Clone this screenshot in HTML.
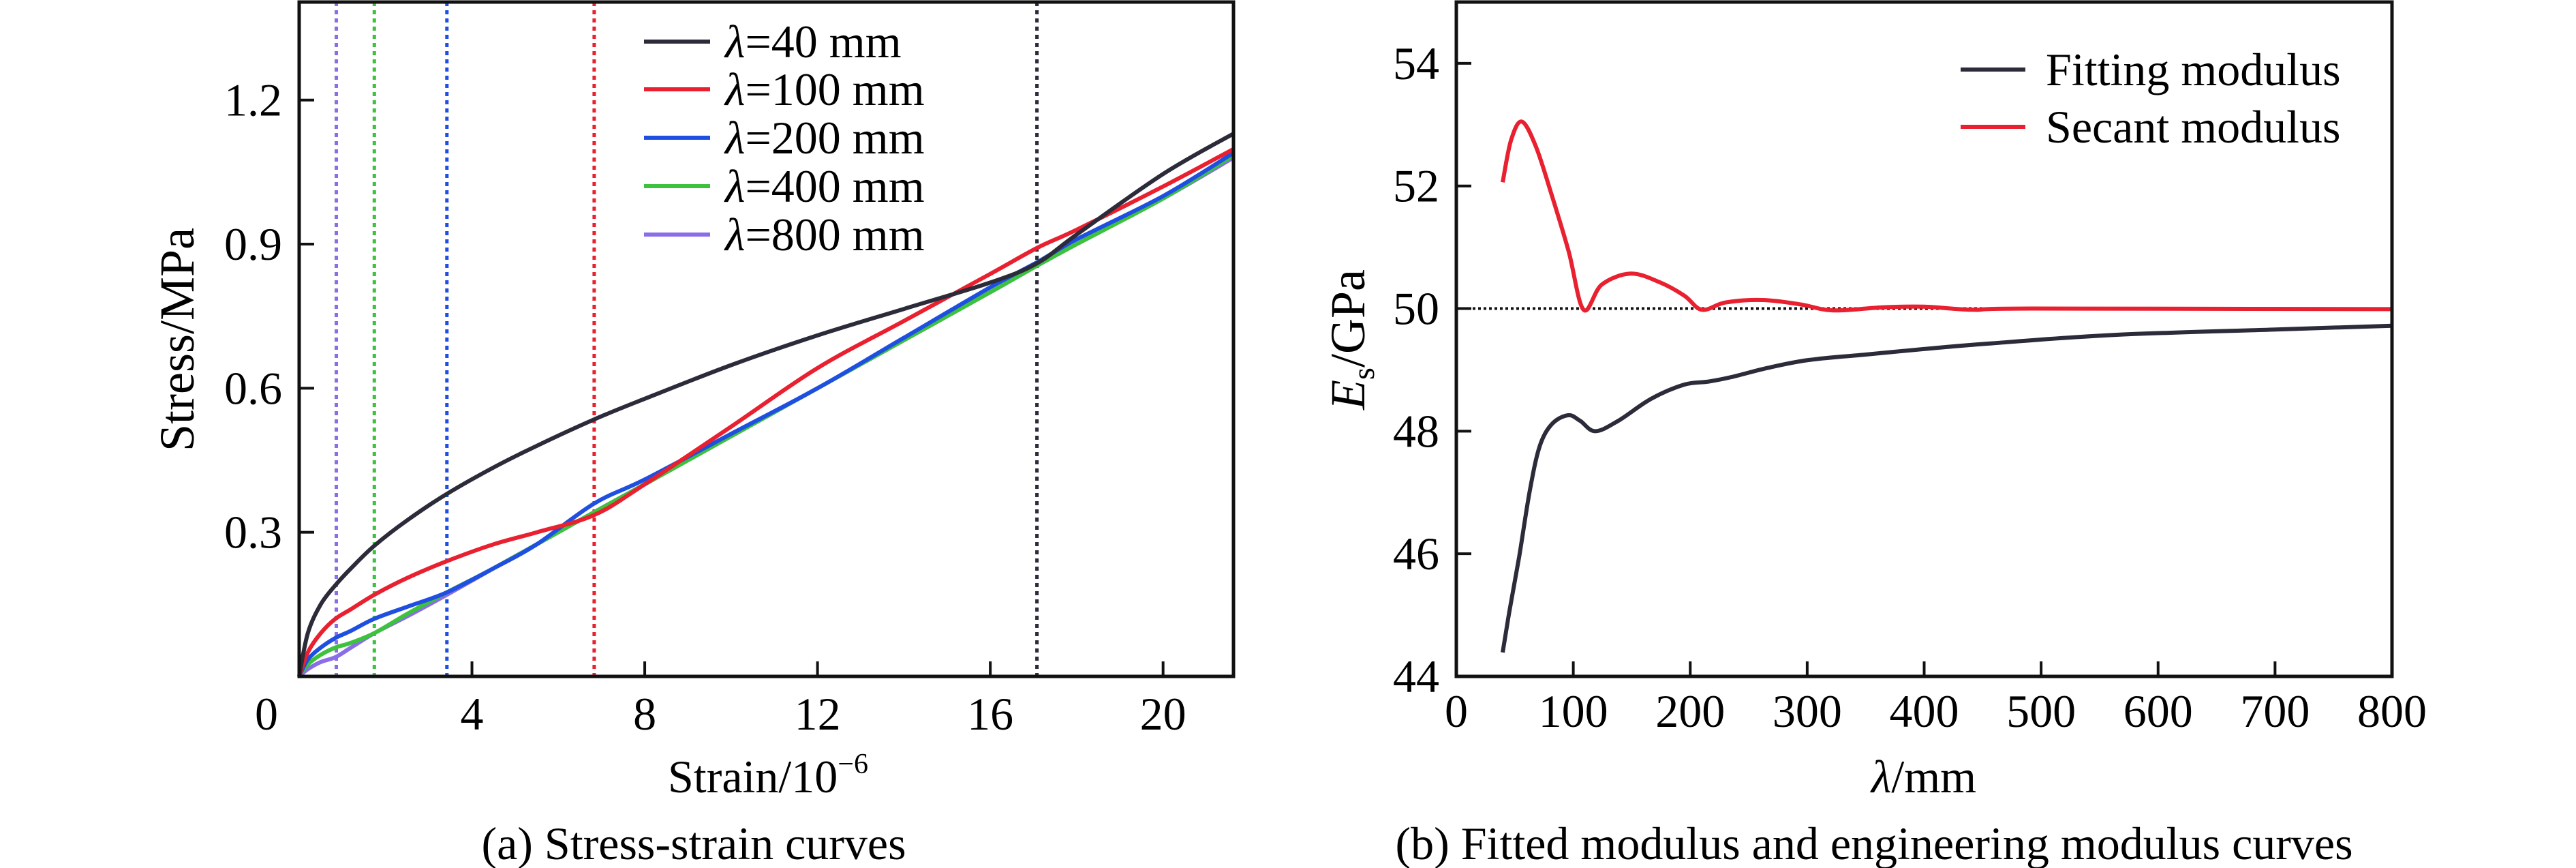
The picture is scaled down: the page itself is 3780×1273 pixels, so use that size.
<!DOCTYPE html>
<html><head><meta charset="utf-8">
<style>
html,body{margin:0;padding:0;background:#fff;}
svg{display:block;}
text{font-family:"Liberation Serif","Times New Roman",serif;}
</style></head>
<body>
<svg id="chart" width="3780" height="1273" viewBox="0 0 3780 1273" xmlns="http://www.w3.org/2000/svg" font-family="Liberation Serif, serif">
<g id="pa"></g>
<g id="pb"></g>
</svg>
<script>
// ---- Panel (a) data ----
const strainPts = [0,0.2,0.5,0.84,1.2,1.74,2.5,3.42,4.5,5.5,6.83,8,10,12,14,16,17.08,18,20,21.63];
const stress40  = [0,0.09,0.15,0.19,0.225,0.272,0.325,0.38,0.435,0.48,0.535,0.578,0.648,0.71,0.765,0.82,0.86,0.92,1.046,1.13];
const stress100 = [0,0.05,0.09,0.12,0.14,0.17,0.205,0.24,0.275,0.30,0.336,0.40,0.52,0.642,0.74,0.838,0.892,0.93,1.02,1.098];
const stress200 = [0,0.035,0.06,0.08,0.095,0.12,0.145,0.175,0.225,0.275,0.36,0.41,0.505,0.60,0.705,0.81,0.862,0.91,1.0,1.09];
const stress400 = [0,0.025,0.045,0.06,0.07,0.09,0.13,0.175,0.225,0.275,0.342,0.40,0.50,0.60,0.70,0.80,0.855,0.90,0.995,1.085];
const stress800 = [0,0.015,0.03,0.04,0.06,0.09,0.125,0.17,0.225,0.275,0.342,0.40,0.50,0.60,0.70,0.80,0.855,0.90,0.995,1.08];
const seriesLabelsA = ["=40 mm","=100 mm","=200 mm","=400 mm","=800 mm"];
const criticalStrain = [17.08,6.83,3.42,1.74,0.86];
const xTicksA = [0,4,8,12,16,20];
const yTicksA = [0.3,0.6,0.9,1.2];
// ---- Panel (b) data ----
const lamFit = [39.6,45.3,53.7,62.9,71.4,81.9,95.7,105.8,118.7,138.5,166.7,195,216,237,265.6,300.7,350,399.7,456,562,703,800];
const eFit   = [44.39,45.05,45.95,47.04,47.76,48.12,48.26,48.17,48.0,48.17,48.53,48.76,48.81,48.89,49.03,49.16,49.25,49.34,49.43,49.57,49.66,49.72];
const lamSec = [39.6,46.7,55.9,67.9,81.9,96.1,108.8,124.3,149,173.8,195,210,230.2,261.7,293.8,322,364.4,399.7,442,491.5,800];
const eSec   = [52.06,52.74,53.05,52.65,51.83,50.93,49.98,50.39,50.57,50.43,50.21,49.98,50.10,50.14,50.07,49.97,50.02,50.03,49.98,50.0,49.99];
const xTicksB = [0,100,200,300,400,500,600,700,800];
const yTicksB = [44,46,48,50,52,54];
const refModulus = 50;

const NS="http://www.w3.org/2000/svg";
function mk(parent,tag,attrs){const e=document.createElementNS(NS,tag);for(const k in attrs)e.setAttribute(k,attrs[k]);if(tag==='text')e.setAttribute('font-family','Liberation Serif, serif');parent.appendChild(e);return e;}
function smooth(pts){
  let d="M"+pts[0][0].toFixed(1)+","+pts[0][1].toFixed(1);
  for(let i=0;i<pts.length-1;i++){
    const p0=pts[Math.max(0,i-1)],p1=pts[i],p2=pts[i+1],p3=pts[Math.min(pts.length-1,i+2)];
    const c1=[p1[0]+(p2[0]-p0[0])/6,p1[1]+(p2[1]-p0[1])/6];
    const c2=[p2[0]-(p3[0]-p1[0])/6,p2[1]-(p3[1]-p1[1])/6];
    d+="C"+c1[0].toFixed(1)+","+c1[1].toFixed(1)+" "+c2[0].toFixed(1)+","+c2[1].toFixed(1)+" "+p2[0].toFixed(1)+","+p2[1].toFixed(1);
  }
  return d;
}
const FS=68;
// ===== Panel A =====
(function(){
  const g=document.getElementById('pa');
  const L=439,R=1810,T=3,B=992, xMax=21.63, yMax=1.404;
  const sx=v=>L+(R-L)*v/xMax, sy=v=>B-(B-T)*v/yMax;
  const colors=["#2b2b3a","#e8202f","#1f4fe0","#3cc23c","#8a6de8"];
  const data=[stress40,stress100,stress200,stress400,stress800];
  criticalStrain.forEach((c,i)=>{
    const l=mk(g,'line',{x1:sx(c),x2:sx(c),y1:T,y2:B,stroke:colors[i],'stroke-width':5,'stroke-dasharray':'6,6'});
    
    
  });
  for(let i=data.length-1;i>=0;i--){
    const pts=strainPts.map((x,j)=>[sx(x),sy(data[i][j])]);
    const p=mk(g,'path',{d:smooth(pts),fill:'none',stroke:colors[i],'stroke-width':6});
    
    
  }
  const fr=mk(g,'rect',{x:L,y:T,width:R-L,height:B-T,fill:'none',stroke:'#111','stroke-width':5});
  
  
  xTicksA.forEach(v=>{
    if(v>0){const t=mk(g,'line',{x1:sx(v),x2:sx(v),y1:B,y2:B-22,stroke:'#111','stroke-width':4});
    
    }
    const tx=mk(g,'text',{x:v===0?sx(v)-48:sx(v),y:1070,'font-size':FS,'text-anchor':'middle'});
    tx.textContent=v;
    
    
  });
  yTicksA.forEach(v=>{
    const t=mk(g,'line',{x1:L,x2:L+22,y1:sy(v),y2:sy(v),stroke:'#111','stroke-width':4});
    
    
    const tx=mk(g,'text',{x:414,y:sy(v)+23,'font-size':FS,'text-anchor':'end'});
    tx.textContent=v.toFixed(1);
    
    
  });
  const ly=[61,131,202,273,344];
  seriesLabelsA.forEach((s,i)=>{
    const l=mk(g,'line',{x1:945,x2:1042,y1:ly[i],y2:ly[i],stroke:colors[i],'stroke-width':6});
    
    
    const t=mk(g,'text',{x:1064,y:ly[i]+23,'font-size':FS});
    t.innerHTML='<tspan font-style="italic">λ</tspan>'+s;
    
    
  });
})();
// ===== Panel B =====
(function(){
  const g=document.getElementById('pb');
  const L=2137,R=3510,T=3,B=992;
  const sx=v=>L+(R-L)*v/800, sy=v=>B-(B-T)*(v-44)/11;
  const ref=mk(g,'line',{x1:L,x2:R,y1:sy(refModulus),y2:sy(refModulus),stroke:'#111','stroke-width':4,'stroke-dasharray':'4,4'});
  
  
  const pf=mk(g,'path',{d:smooth(lamFit.map((x,j)=>[sx(x),sy(eFit[j])])),fill:'none',stroke:'#2b2b3a','stroke-width':6});
  
  
  const ps=mk(g,'path',{d:smooth(lamSec.map((x,j)=>[sx(x),sy(eSec[j])])),fill:'none',stroke:'#e8202f','stroke-width':6});
  
  
  const fr=mk(g,'rect',{x:L,y:T,width:R-L,height:B-T,fill:'none',stroke:'#111','stroke-width':5});
  
  
  xTicksB.forEach(v=>{
    if(v>0&&v<800){const t=mk(g,'line',{x1:sx(v),x2:sx(v),y1:B,y2:B-22,stroke:'#111','stroke-width':4});
    
    }
    const tx=mk(g,'text',{x:sx(v),y:1066,'font-size':FS,'text-anchor':'middle'});
    tx.textContent=v;
    
    
  });
  yTicksB.forEach(v=>{
    if(v>44){const t=mk(g,'line',{x1:L,x2:L+22,y1:sy(v),y2:sy(v),stroke:'#111','stroke-width':4});
    
    }
    const tx=mk(g,'text',{x:2112,y:sy(v)+23,'font-size':FS,'text-anchor':'end'});
    tx.textContent=v;
    
    
  });
})();
(function(){
  const svg=document.getElementById('chart');
  const add=(html)=>{svg.insertAdjacentHTML('beforeend',html);};
  const F='font-family="Liberation Serif, serif"';
  add('<text '+F+' x="0" y="0" font-size="72" text-anchor="middle" transform="translate(284,498) rotate(-90)">Stress/MPa</text>');
  add('<text '+F+' x="1127" y="1162" font-size="68" text-anchor="middle">Strain/10<tspan font-size="42" dy="-28">−6</tspan></text>');
  add('<text '+F+' x="1018" y="1260" font-size="68" text-anchor="middle">(a) Stress-strain curves</text>');
  add('<line x1="2877" x2="2972" y1="102" y2="102" stroke="#2b2b3a" stroke-width="6"/>');
  add('<text '+F+' x="3002" y="125" font-size="68">Fitting modulus</text>');
  add('<line x1="2877" x2="2972" y1="186" y2="186" stroke="#e8202f" stroke-width="6"/>');
  add('<text '+F+' x="3002" y="209" font-size="68">Secant modulus</text>');
  add('<text '+F+' x="0" y="0" font-size="72" text-anchor="middle" transform="translate(2002,498) rotate(-90)"><tspan font-style="italic">E</tspan><tspan font-size="46" dy="14">s</tspan><tspan dy="-14">/GPa</tspan></text>');
  add('<text '+F+' x="2823" y="1162" font-size="68" text-anchor="middle"><tspan font-style="italic">λ</tspan>/mm</text>');
  add('<text '+F+' x="2750" y="1260" font-size="68" text-anchor="middle">(b) Fitted modulus and engineering modulus curves</text>');
})();
</script>
</body></html>
